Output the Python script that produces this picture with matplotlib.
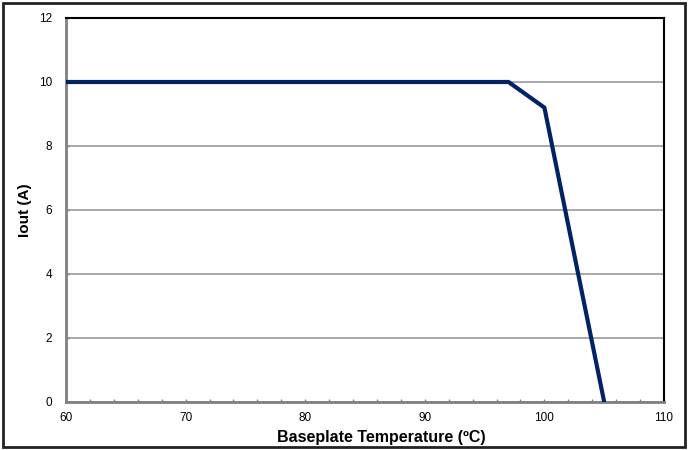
import matplotlib
matplotlib.use("Agg")
import matplotlib.pyplot as plt
from matplotlib.patches import Rectangle
from matplotlib.ticker import MultipleLocator

plt.rcParams['font.family'] = ['Liberation Sans', 'DejaVu Sans']

# derating curve
temp_c = [60, 97, 100, 105]
iout_a = [10, 10, 9.2, 0]

x_ticks = [60, 70, 80, 90, 100, 110]
y_ticks = [0, 2, 4, 6, 8, 10, 12]

fig = plt.figure(figsize=(6.88, 4.5), dpi=100)
ax = fig.add_axes([66 / 688, 48 / 450, 598 / 688, 384 / 450])

# outer frame around the whole chart
fig.patches.append(Rectangle((3 / 688, 3 / 450), 682 / 688, 444 / 450,
                             transform=fig.transFigure, fill=False,
                             edgecolor='#222222', linewidth=2))

ax.plot(temp_c, iout_a, color='#002366', linewidth=3, solid_joinstyle='miter', zorder=3)

ax.set_xlim(60, 110)
ax.set_ylim(0, 12)
ax.set_xticks(x_ticks)
ax.set_yticks(y_ticks)
ax.xaxis.set_minor_locator(MultipleLocator(2))
ax.yaxis.grid(True, color='#999999', linewidth=1.2)
ax.set_axisbelow(True)

ax.tick_params(axis='both', which='both', direction='in', length=2, color='#808080', width=1,
               labelsize=8.5)
ax.tick_params(axis='x', which='major', pad=7)
ax.tick_params(axis='y', which='major', pad=10)

for side in ['top', 'right']:
    ax.spines[side].set_color('black')
    ax.spines[side].set_linewidth(1.5)
for side in ['left', 'bottom']:
    ax.spines[side].set_color('#808080')
    ax.spines[side].set_linewidth(2)

ax.set_xlabel('Baseplate Temperature (ºC)', fontsize=11.5, fontweight='bold')
ax.xaxis.set_label_coords(0.528, -0.072)
ax.set_ylabel('Iout (A)', fontsize=11, fontweight='bold', labelpad=5)

fig.savefig('out.png', dpi=100)
